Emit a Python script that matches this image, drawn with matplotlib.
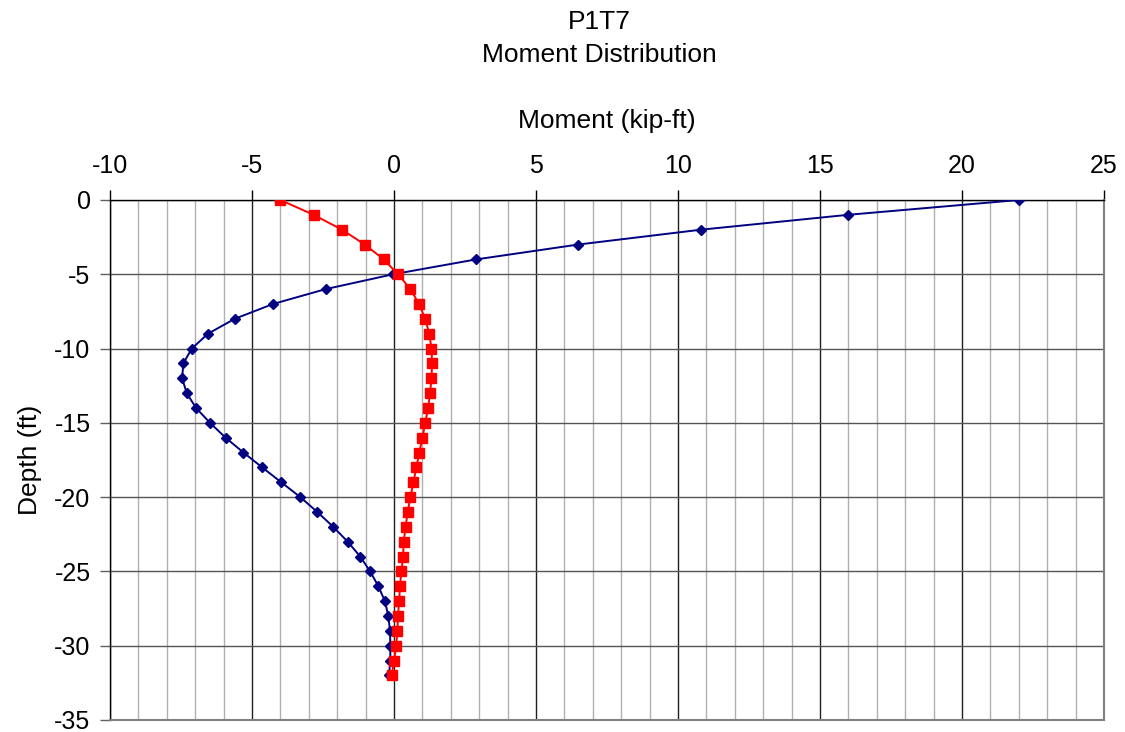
import numpy as np
import matplotlib.pyplot as plt
from matplotlib.ticker import MultipleLocator

plt.rcParams['font.family'] = ['Liberation Sans', 'DejaVu Sans']
plt.rcParams['axes.unicode_minus'] = False

depth = [0, -1, -2, -3, -4, -5, -6, -7, -8, -9, -10, -11, -12, -13, -14, -15, -16,
         -17, -18, -19, -20, -21, -22, -23, -24, -25, -26, -27, -28, -29, -30, -31, -32]

# moment profiles (kip-ft)
moment_a = [22.0, 15.98, 10.81, 6.48, 2.89, -0.03, -2.41, -4.26, -5.61, -6.55, -7.12,
            -7.42, -7.46, -7.30, -6.97, -6.48, -5.93, -5.30, -4.64, -3.97, -3.30,
            -2.70, -2.14, -1.63, -1.19, -0.84, -0.55, -0.32, -0.20, -0.14, -0.13,
            -0.13, -0.18]
moment_b = [-4.0, -2.83, -1.83, -1.03, -0.36, 0.14, 0.58, 0.88, 1.10, 1.24, 1.32,
            1.34, 1.32, 1.27, 1.20, 1.10, 1.00, 0.89, 0.79, 0.68, 0.58, 0.48, 0.41,
            0.34, 0.32, 0.26, 0.21, 0.18, 0.14, 0.12, 0.08, 0.00, -0.08]

fs = 19
tfs = 18

fig = plt.figure(figsize=(11.25, 7.32), dpi=100)
ax = fig.add_axes([0.0978, 0.0164, 0.8835, 0.7104])

ax.plot(moment_a, depth, color='#000080', marker='D', markersize=5.3,
        linewidth=1.4, zorder=3)
ax.plot(moment_b, depth, color='#ff0000', marker='s', markersize=7,
        linewidth=1.4, zorder=4)

ax.set_xlim(-10, 25)
ax.set_ylim(-35, 0)
ax.xaxis.set_major_locator(MultipleLocator(5))
ax.xaxis.set_minor_locator(MultipleLocator(1))
ax.yaxis.set_major_locator(MultipleLocator(5))

ax.xaxis.tick_top()
ax.xaxis.set_label_position('top')
ax.grid(which='minor', axis='x', color='#b0b0b0', linewidth=1.0)
ax.grid(which='major', axis='x', color='#202020', linewidth=1.0)
ax.grid(which='major', axis='y', color='#555555', linewidth=1.0)
ax.set_axisbelow(True)

ax.tick_params(axis='x', which='major', direction='out', length=7, width=1,
               color='black', labelsize=tfs, pad=8.5)
ax.tick_params(axis='x', which='minor', length=0)
ax.tick_params(axis='y', direction='out', length=7, width=1, color='#606060',
               labelsize=tfs, pad=7)

for s in ['left', 'top']:
    ax.spines[s].set_color('black')
    ax.spines[s].set_linewidth(1.0)
for s in ['right', 'bottom']:
    ax.spines[s].set_color('#808080')
    ax.spines[s].set_linewidth(1.5)

ax.set_xlabel('Moment (kip-ft)', fontsize=fs, labelpad=19)
ax.set_ylabel('Depth (ft)', fontsize=fs, labelpad=9)

fig.text(0.533, 0.970, 'P1T7', ha='center', va='center', fontsize=fs)
fig.text(0.533, 0.925, 'Moment Distribution', ha='center', va='center', fontsize=fs)

fig.savefig('out.png', dpi=100)
